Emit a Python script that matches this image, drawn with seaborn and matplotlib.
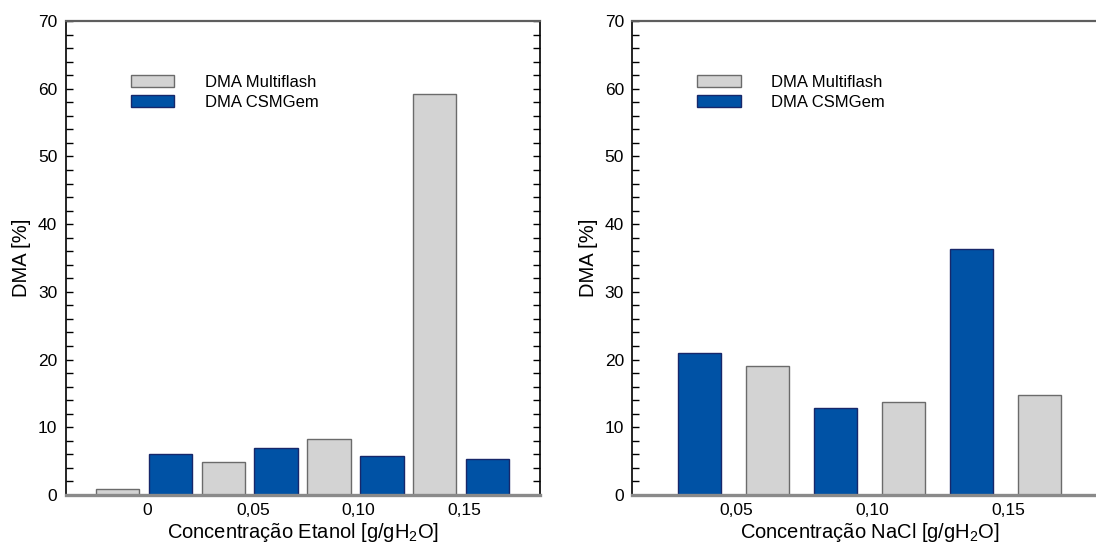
import numpy as np
import pandas as pd
import matplotlib
matplotlib.use("Agg")
import matplotlib.pyplot as plt
from matplotlib.patches import Patch
from matplotlib.ticker import MultipleLocator
import seaborn as sns

# DMA (%) per concentration, two thermodynamic packages
etanol_conc = ["0", "0,05", "0,10", "0,15"]
etanol_multiflash = [0.9, 4.8, 8.2, 59.2]
etanol_csmgem = [6.0, 7.0, 5.7, 5.3]

nacl_conc = ["0,05", "0,10", "0,15"]
nacl_multiflash = [19.1, 13.7, 14.7]
nacl_csmgem = [21.0, 12.9, 36.4]

series = ["DMA Multiflash", "DMA CSMGem"]
fill = {"DMA Multiflash": "#d3d3d3", "DMA CSMGem": "#0052a5"}
edge = {"DMA Multiflash": "#6b6b6b", "DMA CSMGem": "#17276a"}

sns.set_theme(style="white")
plt.rcParams["font.family"] = ["Liberation Sans", "DejaVu Sans"]
plt.rcParams["mathtext.fontset"] = "custom"
plt.rcParams["mathtext.rm"] = "Liberation Sans"
plt.rcParams["mathtext.it"] = "Liberation Sans"
for key in ("text.color", "axes.labelcolor", "xtick.color", "ytick.color",
            "xtick.labelcolor", "ytick.labelcolor"):
    plt.rcParams[key] = "black"


def long_table(conc, multiflash, csmgem):
    n = len(conc)
    return pd.DataFrame({
        "conc": list(conc) * 2,
        "modelo": [series[0]] * n + [series[1]] * n,
        "dma": list(multiflash) + list(csmgem),
    })


def panel(ax, df, order, hue_order, gap, xlim, tick_shift, xlabel, right_ticks):
    sns.barplot(data=df, x="conc", y="dma", hue="modelo", order=order,
                hue_order=hue_order, palette=fill, saturation=1, width=1.0,
                gap=gap, dodge=True, legend=False, linewidth=1.0, ax=ax,
                errorbar=None)
    for name, cont in zip(hue_order, ax.containers):
        for bar in cont:
            bar.set_edgecolor(edge[name])
            bar.set_linewidth(1.0)
            bar.set_zorder(2)

    ax.set_xlim(*xlim)
    ax.set_ylim(0, 70)
    ax.set_xticks(np.arange(len(order)) + tick_shift, labels=order)
    ax.yaxis.set_major_locator(MultipleLocator(10))
    ax.yaxis.set_minor_locator(MultipleLocator(2))
    ax.tick_params(axis="y", which="both", direction="in", length=5, width=1,
                   color="black", labelcolor="black", left=True,
                   right=right_ticks, labelsize=12.5, pad=6)
    ax.tick_params(axis="x", which="both", length=0, labelsize=12.5, pad=6,
                   labelcolor="black")

    ax.set_xlabel(xlabel, fontsize=14.5, labelpad=2, color="black")
    ax.set_ylabel("DMA [%]", fontsize=14.5, labelpad=5, color="black")

    for side in ax.spines.values():
        side.set_visible(True)
    ax.spines["left"].set_color("black")
    ax.spines["left"].set_linewidth(1.2)
    ax.spines["right"].set_color("black")
    ax.spines["right"].set_linewidth(1.2)
    ax.spines["top"].set_color("#5e5e5e")
    ax.spines["top"].set_linewidth(1.6)
    ax.spines["bottom"].set_color("#8a8a8a")
    ax.spines["bottom"].set_linewidth(2.4)

    handles = [Patch(facecolor=fill[s], edgecolor=edge[s], linewidth=1.0, label=s)
               for s in series]
    leg = ax.legend(handles=handles, loc="upper left",
                    bbox_to_anchor=(0.137, 0.887), frameon=False, borderpad=0,
                    borderaxespad=0, fontsize=12, handlelength=2.6,
                    handleheight=0.8, handletextpad=1.85, labelspacing=0.3)
    for t in leg.get_texts():
        t.set_color("black")


fig = plt.figure(figsize=(10.96, 5.44), dpi=100)
ax1 = fig.add_axes([65.7 / 1096, 49 / 544, 474.3 / 1096, 474 / 544])
ax2 = fig.add_axes([632.3 / 1096, 49 / 544, 474.3 / 1096, 474 / 544])

panel(ax1, long_table(etanol_conc, etanol_multiflash, etanol_csmgem),
      etanol_conc, ["DMA Multiflash", "DMA CSMGem"], 0.18, (-0.741, 3.746),
      0.03, r"Concentração Etanol [g/gH$_2$O]", True)
panel(ax2, long_table(nacl_conc, nacl_multiflash, nacl_csmgem),
      nacl_conc, ["DMA CSMGem", "DMA Multiflash"], 0.364, (-0.741, 2.742),
      0.02, r"Concentração NaCl [g/gH$_2$O]", False)

fig.savefig("out.png", dpi=100)
